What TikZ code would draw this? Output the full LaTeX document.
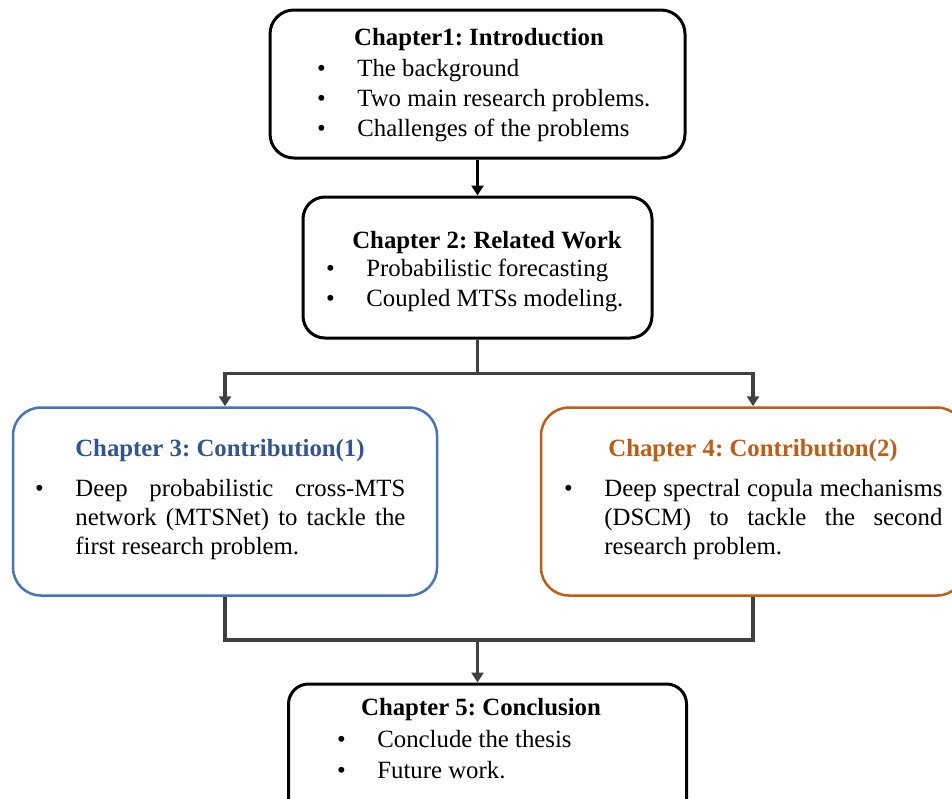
\documentclass[tikz,border=0pt]{standalone}
\usepackage{fontspec}
\setmainfont{Liberation Serif}
\usepackage{xcolor}
\usetikzlibrary{arrows.meta}
\definecolor{contribblue}{RGB}{68, 114, 196}
\definecolor{titleblue}{RGB}{47, 85, 151}
\definecolor{contriborange}{RGB}{197, 90, 17}
\definecolor{flowgray}{RGB}{64, 64, 64}
\frenchspacing

\newcommand{\chapitem}[1]{\par\noindent\hangindent=18pt\hangafter=1\makebox[18pt][l]{\makebox[0pt][c]{\textbullet}}#1}

\begin{document}
\begin{tikzpicture}[
    x=0.5pt, y=-0.5pt,
    chapbox/.style={draw=black, line width=1.5pt, rounded corners=12pt},
    contrib/.style={line width=1.25pt, rounded corners=14pt, minimum width=212pt, minimum height=94pt},
    chaptitle/.style={font=\fontsize{12.4}{15}\selectfont\bfseries, inner sep=0pt, anchor=base},
    chapitems/.style={font=\fontsize{12.4}{15}\selectfont, inner sep=0pt, anchor=base west},
    flow/.style={-{Triangle[width=6pt,length=5pt]}, line width=1.75pt, draw=flowgray}
]
\clip (0,0) rectangle (952,798);

% Chapter boxes
\node[chapbox, minimum width=207.5pt, minimum height=74pt] (ch1) at (477.5,84) {};
\node[chapbox, minimum width=174.5pt, minimum height=70.5pt, rounded corners=11pt] (ch2) at (477.5,267.5) {};
\node[contrib, draw=contribblue] (ch3) at (225,501.5) {};
\node[contrib, draw=contriborange] (ch4) at (753,501.5) {};
\node[chapbox, minimum width=199pt, minimum height=68pt, rounded corners=10pt] (ch5) at (487.5,752) {};

% Titles
\node[chaptitle] (ch1title) at (479,45) {Chapter1: Introduction};
\node[chaptitle] (ch2title) at (487,248) {Chapter 2: Related Work};
\node[chaptitle] (ch3title) [text=titleblue] at (220,456) {Chapter 3: Contribution(1)};
\node[chaptitle] (ch4title) [text=contriborange] at (753,456) {Chapter 4: Contribution(2)};
\node[chaptitle] (ch5title) at (481,715) {Chapter 5: Conclusion};

% Contents
\node[chapitems] (ch1items) at (321,76) {\parbox[t]{180pt}{\raggedright
    \chapitem{The background}
    \chapitem{Two main research problems.}
    \chapitem{Challenges of the problems}}};
\node[chapitems] (ch2items) at (330,276) {\parbox[t]{160pt}{\raggedright
    \chapitem{Probabilistic forecasting}
    \chapitem{Coupled MTSs modeling.}}};
\node[chapitems] (ch3items) at (39,496) {\parbox[t]{183pt}{\fontsize{12.4}{14.7}\selectfont
    \chapitem{Deep probabilistic cross-MTS\linebreak network (MTSNet) to tackle the\linebreak first research problem.}}};
\node[chapitems] (ch4items) at (568,496) {\parbox[t]{187pt}{\fontsize{12.4}{14.7}\selectfont
    \chapitem{Deep spectral copula mechanisms\linebreak (DSCM) to tackle the second\linebreak research problem.}}};
\node[chapitems] (ch5items) at (341,747) {\parbox[t]{150pt}{\raggedright\fontsize{12.4}{15.5}\selectfont
    \chapitem{Conclude the thesis}
    \chapitem{Future work.}}};

% Connections
\draw[flow, draw=black] (ch1) -- (ch2);
\draw[flow] (ch2.south) -- ++(0,34) -| (ch3.north);
\draw[flow] (ch2.south) -- ++(0,34) -| (ch4.north);
\coordinate (join) at (477.5,640);
\draw[line width=1.75pt, draw=flowgray] (ch3.south) |- (join) -| (ch4.south);
\draw[flow] (join) -- (join |- ch5.north);

\end{tikzpicture}
\end{document}
